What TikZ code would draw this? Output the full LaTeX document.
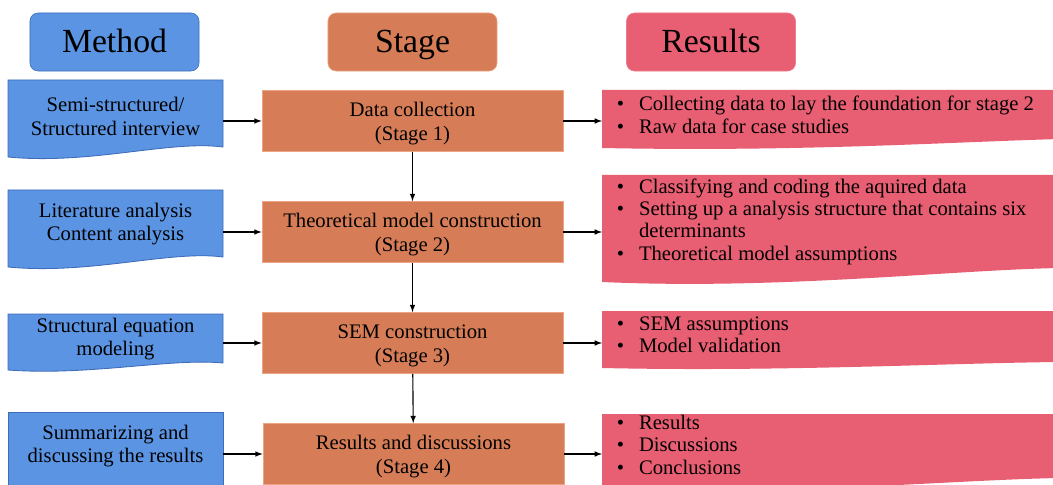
\documentclass[tikz,border=0pt]{standalone}
\usepackage{fontspec}
\setmainfont{Liberation Serif}
\usetikzlibrary{arrows}

\definecolor{methodblue}{RGB}{91,148,226}
\definecolor{methodedge}{RGB}{62,108,186}
\definecolor{stageorange}{RGB}{214,125,87}
\definecolor{stageedge}{RGB}{236,164,130}
\definecolor{resultred}{RGB}{232,94,114}

\tikzset{
    head/.style={rounded corners=0.2cm, minimum width=4.225cm, minimum height=1.45cm, text height=19.2pt, text depth=4.8pt, font=\fontsize{24}{28}\selectfont},
    methodtxt/.style={minimum width=5.375cm, inner sep=0pt, align=center, font=\fontsize{14.7}{16.6}\selectfont},
    stagebox/.style={fill=stageorange, draw=stageedge, line width=0.5pt, minimum width=7.525cm, minimum height=1.525cm, align=center, text height=31.4pt, text depth=3.2pt, font=\fontsize{14.7}{17}\selectfont},
    restxt/.style={anchor=west, inner xsep=0.3625cm, inner ysep=0pt, font=\fontsize{14.7}{16}\selectfont},
    methodshape/.style={fill=methodblue, draw=methodedge, line width=0.6pt},
    resshape/.style={fill=resultred},
    flow/.style={-latex, line width=0.8pt}
}

\begin{document}
\begin{tikzpicture}[x=0.025cm, y=-0.025cm]

    \clip (0,0) rectangle (1053,485);

    \node [head, fill=methodblue, draw=methodedge] (Mh) at (114.5,42) {Method};
    \node [head, fill=stageorange, draw=stageedge] (Sh) at (412.5,42) {Stage};
    \node [head, fill=resultred, draw=resultred!80!white] (Rh) at (711,42) {Results};

    \draw [methodshape] (8,80) -- (223,80) -- (223,147) .. controls (170,140) and (90,165) .. (8,157) -- cycle;
    \draw [methodshape] (8,190) -- (223,190) -- (223,257) .. controls (170,250) and (90,275) .. (8,267) -- cycle;
    \draw [methodshape] (8,314) -- (223,314) -- (223,363) .. controls (170,358) and (90,376) .. (8,370) -- cycle;
    \draw [methodshape] (8,412) -- (223,412) -- (223,500) -- (8,500) -- cycle;

    \fill [resshape] (602,90) -- (1060,90) -- (1060,139) .. controls (950,142) and (800,152) .. (602,148) -- cycle;
    \fill [resshape] (602,175) -- (1060,175) -- (1060,268) .. controls (950,270) and (780,290) .. (602,282) -- cycle;
    \fill [resshape] (602,311) -- (1060,311) -- (1060,362) .. controls (950,363) and (780,372) .. (602,368) -- cycle;
    \fill [resshape] (602,414) -- (1060,414) -- (1060,478) .. controls (950,480) and (800,495) .. (602,490) -- cycle;

    \node [methodtxt] (M1) at (115.5,116.5) {Semi-structured/\\Structured interview};
    \node [methodtxt] (M2) at (115.5,224) {Literature analysis\\Content analysis};
    \node [methodtxt] (M3) at (115.5,339) {Structural equation\\modeling};
    \node [methodtxt] (M4) at (115.5,446) {Summarizing and\\discussing the results};

    \node [stagebox] (S1) at (412.5,121) {Data collection\\(Stage 1)};
    \node [stagebox] (S2) at (412.5,232) {Theoretical model construction\\(Stage 2)};
    \node [stagebox] (S3) at (412.5,343) {SEM construction\\(Stage 3)};
    \node [stagebox] (S4) at (413.5,454) {Results and discussions\\(Stage 4)};

    \node [restxt] (R1) at (602,117.75) {\begin{tabular}{@{}l@{\hspace{0.375cm}}l@{}}
        \textbullet & Collecting data to lay the foundation for stage 2\\
        \textbullet & Raw data for case studies
    \end{tabular}};
    \node [restxt] (R2) at (602,222.25) {\begin{tabular}{@{}l@{\hspace{0.375cm}}l@{}}
        \textbullet & Classifying and coding the aquired data\\
        \textbullet & Setting up a analysis structure that contains six\\
                    & determinants\\
        \textbullet & Theoretical model assumptions
    \end{tabular}};
    \node [restxt] (R3) at (602,336.75) {\begin{tabular}{@{}l@{\hspace{0.375cm}}l@{}}
        \textbullet & SEM assumptions\\
        \textbullet & Model validation
    \end{tabular}};
    \node [restxt] (R4) at (602,447) {\begin{tabular}{@{}l@{\hspace{0.375cm}}l@{}}
        \textbullet & Results\\
        \textbullet & Discussions\\
        \textbullet & Conclusions
    \end{tabular}};

    \draw [flow] (M1.east |- S1) -- (S1);
    \draw [flow] (M2.east |- S2) -- (S2);
    \draw [flow] (M3.east |- S3) -- (S3);
    \draw [flow] (M4.east |- S4) -- (S4);

    \draw [flow] (S1) -- (S2);
    \draw [flow] (S2) -- (S3);
    \draw [flow] (S3) -- (S4);

    \draw [flow] (S1.east) -- (S1.east -| R1.west);
    \draw [flow] (S2.east) -- (S2.east -| R2.west);
    \draw [flow] (S3.east) -- (S3.east -| R3.west);
    \draw [flow] (S4.east) -- (S4.east -| R4.west);

\end{tikzpicture}
\end{document}
